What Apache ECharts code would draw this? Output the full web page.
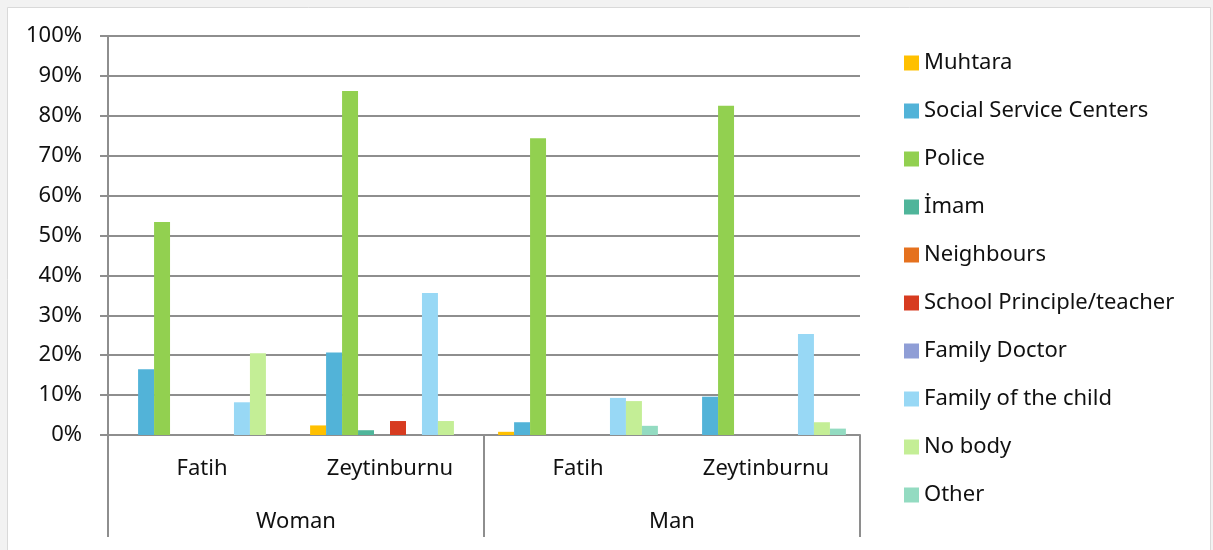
<!DOCTYPE html>
<html><head><meta charset="utf-8">
<script src="https://cdn.jsdelivr.net/npm/echarts@6/dist/echarts.min.js"></script>
<style>html,body{margin:0;padding:0;background:#f2f2f2;}#c{width:1213px;height:550px;}</style>
</head><body><div id="c"></div>
<script>
const subCategories = ['Fatih', 'Zeytinburnu', 'Fatih', 'Zeytinburnu'];
const groupCategories = ['Woman', 'Man'];
const yTicks = [0, 10, 20, 30, 40, 50, 60, 70, 80, 90, 100];
const seriesNames = ['Muhtara', 'Social Service Centers', 'Police', 'İmam', 'Neighbours',
  'School Principle/teacher', 'Family Doctor', 'Family of the child', 'No body', 'Other'];
const muhtara = [0, 2.4, 0.8, 0];
const socialService = [16.5, 20.7, 3.2, 9.6];
const police = [53.4, 86.2, 74.4, 82.5];
const imam = [0, 1.2, 0, 0];
const neighbours = [0, 0, 0, 0];
const schoolTeacher = [0, 3.5, 0, 0];
const familyDoctor = [0, 0, 0, 0];
const familyChild = [8.2, 35.6, 9.3, 25.3];
const noBody = [20.5, 3.5, 8.5, 3.2];
const other = [0, 0, 2.3, 1.6];
const colors = ['#FFC000', '#52B3D8', '#92D050', '#4FB59A', '#E5711E', '#D73B20', '#8F9ED6', '#98D8F5', '#C4EE96', '#93DBC1'];

const values = [muhtara, socialService, police, imam, neighbours, schoolTeacher, familyDoctor, familyChild, noBody, other];
const font = '"Noto Sans", sans-serif';
const fs = 22;
const chart = echarts.init(document.getElementById('c'));
chart.setOption({
  backgroundColor: '#f2f2f2',
  animation: false,
  color: colors,
  graphic: [{
    type: 'rect', z: -10, silent: true,
    shape: { x: 7.5, y: 7.5, width: 1203, height: 560 },
    style: { fill: '#ffffff', stroke: '#d9d9d9', lineWidth: 1 }
  }],
  legend: {
    orient: 'vertical', left: 899, top: 47,
    itemWidth: 15, itemHeight: 15, itemGap: 26,
    icon: 'rect',
    textStyle: { fontFamily: font, fontSize: fs, color: '#111', padding: [0, 0, 0, 0] },
    data: seriesNames
  },
  grid: { left: 108, right: 353, top: 36, bottom: 115 },
  xAxis: [{
    type: 'category', data: subCategories, position: 'bottom',
    axisLine: { show: true, lineStyle: { color: '#8e8e8e', width: 2 } },
    axisTick: { show: false },
    axisLabel: { margin: 23, fontFamily: font, fontSize: fs, color: '#111' }
  }, {
    type: 'category', data: groupCategories, position: 'bottom',
    axisLine: { show: false },
    axisTick: { show: true, length: 102, interval: 0, lineStyle: { color: '#8e8e8e', width: 2 } },
    axisLabel: { margin: 76, fontFamily: font, fontSize: fs, color: '#111' }
  }],
  yAxis: {
    type: 'value', min: 0, max: 100, interval: 10,
    axisLine: { show: true, lineStyle: { color: '#8e8e8e', width: 2 } },
    axisTick: { show: true, length: 8, lineStyle: { color: '#8e8e8e', width: 2 } },
    splitLine: { show: true, lineStyle: { color: '#8e8e8e', width: 2 } },
    axisLabel: { margin: 26, fontFamily: font, fontSize: fs, color: '#111',
      formatter: v => yTicks.includes(v) ? v + '%' : '' }
  },
  series: seriesNames.map((name, i) => ({
    name, type: 'bar', xAxisIndex: 0, data: values[i],
    barGap: '0%', barCategoryGap: '15%'
  }))
});
</script></body></html>
